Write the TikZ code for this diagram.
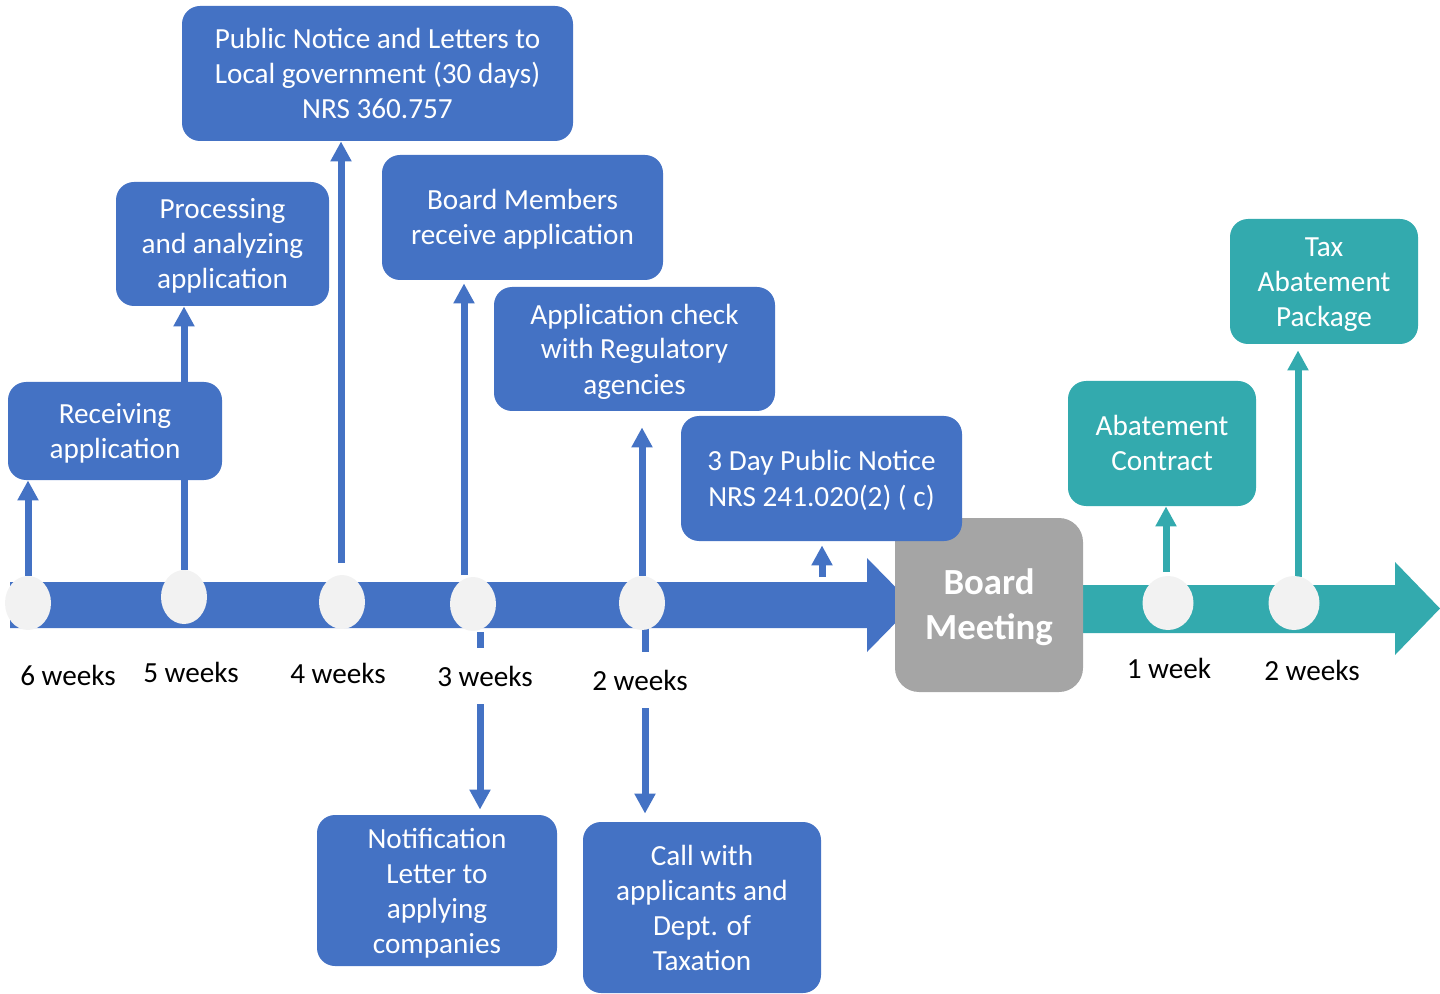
\documentclass[tikz,border=0pt]{standalone}
\usepackage{fontspec}
\setmainfont{Carlito}
\usetikzlibrary{arrows.meta,positioning,shapes.geometric,backgrounds}
\definecolor{stepblue}{HTML}{4472C4}
\definecolor{stepteal}{HTML}{33AAAE}
\definecolor{meetgray}{HTML}{A5A5A5}
\definecolor{dotgray}{HTML}{F2F2F2}

\begin{document}
\begin{tikzpicture}
[x=0.5pt, y=-0.5pt,
font=\fontsize{14.6}{17.5}\selectfont,
task/.style={fill=stepblue, text=white, rounded corners=9pt, align=center, inner sep=0pt, text depth=3.9pt},
tealtask/.style={task, fill=stepteal},
two/.style={text height=31.4pt},
three/.style={text height=48.9pt},
four/.style={text height=66.4pt},
meeting/.style={fill=meetgray, text=white, rounded corners=12pt, align=center, inner sep=0pt,
  font=\bfseries\fontsize{18.4}{22.5}\selectfont, text height=39.5pt, text depth=4.9pt},
dot/.style={ellipse, fill=dotgray, inner sep=0pt, minimum width=23pt, minimum height=27pt},
tealdot/.style={dot, minimum width=25.5pt},
wk/.style={anchor=base, fill=white, inner xsep=2pt, inner ysep=9pt},
link/.style={-{Triangle[width=10pt,length=10pt]}, line width=3.5pt, draw=stepblue},
teallink/.style={link, draw=stepteal}
]
  \useasboundingbox (0,0) rectangle (1440,994);

  % timeline dots
  \node[dot]     (c6) at (28,603)   {};
  \node[dot]     (c5) at (184,597)  {};
  \node[dot]     (c4) at (342,602)  {};
  \node[dot]     (c3) at (473,604)  {};
  \node[dot]     (c2) at (642,603)  {};
  \node[tealdot] (t1) at (1168,603) {};
  \node[tealdot] (t2) at (1294,603) {};

  % week labels
  \node[wk] (w6) at (68,685)    {6 weeks};
  \node[wk] (w5) at (191,682)   {5 weeks};
  \node[wk] (w4) at (338,683)   {4 weeks};
  \node[wk] (w3) at (485,686)   {3 weeks};
  \node[wk] (w2) at (640,690)   {2 weeks};
  \node[wk] (v1) at (1169,678)  {1 week};
  \node[wk] (v2) at (1312,680)  {2 weeks};

  % tasks
  \node[meeting, minimum width=94pt, minimum height=87pt] (board) at (989,605) {Board\\Meeting};
  \node[task, two, minimum width=107pt, minimum height=49pt]   (recv)  at (115,431)   {Receiving\\application};
  \node[task, three, minimum width=106.5pt, minimum height=62pt] (proc)  at (222.5,244) {Processing\\and analyzing\\application};
  \node[task, three, minimum width=195.5pt, minimum height=67.5pt] (pub) at (377.5,73.5) {Public Notice and Letters to\\Local government (30 days)\\NRS 360.757};
  \node[task, two, minimum width=140.5pt, minimum height=62.5pt] (memb) at (522.5,217.5) {Board Members\\receive application};
  \node[task, three, minimum width=140.5pt, minimum height=62pt] (check) at (634.5,349) {Application check\\with Regulatory\\agencies};
  \node[task, two, minimum width=140.5pt, minimum height=62.5pt] (pub3) at (821.5,478.5) {3 Day Public Notice\\NRS 241.020(2) ( c)};
  \node[task, four, minimum width=120pt, minimum height=75.5pt] (note) at (437,890.5) {Notification\\Letter to\\applying\\companies};
  \node[task, four, minimum width=119pt, minimum height=85.5pt] (call) at (702,907.5) {Call with\\applicants and\\Dept. of\\Taxation};
  \node[tealtask, two, minimum width=94pt, minimum height=62.5pt] (abc) at (1162,443.5) {Abatement\\Contract};
  \node[tealtask, three, minimum width=94pt, minimum height=62.5pt] (tax) at (1324,281.5) {Tax\\Abatement\\Package};

  \coordinate (up4)  at (341,563);
  \coordinate (up3)  at (464,575);
  \coordinate (dn3)  at (480,632);
  \coordinate (dn2)  at (645,628);
  \coordinate (up0)  at (822,577);
  \coordinate (up1t) at (1166,572);
  \coordinate (up2t) at (1298,577);

  \begin{scope}[on background layer]
    % timeline bars
    \fill[stepblue] (10,582) -- (867,582) -- (867,558) -- (913,605) -- (867,652) -- (867,628) -- (10,628) -- cycle;
    \fill[stepteal] (1060,585) -- (1395,585) -- (1395,562) -- (1440,608.5) -- (1395,655) -- (1395,633) -- (1060,633) -- cycle;

    \draw[link] (c6.north) -- (c6.north |- recv.south);
    \draw[link] (c5.north) -- (c5.north |- proc.south);
    \draw[link] (up4) -- (up4 |- pub.south);
    \draw[link] (up3) -- ([yshift=-1.5pt]up3 |- memb.south);
    \draw[link] (dn3) -- ([yshift=2.5pt]dn3 |- note.north);
    \draw[link] (c2.north) -- ([yshift=-8pt]c2.north |- check.south);
    \draw[link] (dn2) -- ([yshift=4pt]dn2 |- call.north);
    \draw[link] (up0) -- ([yshift=-2pt]up0 |- pub3.south);
    \draw[teallink] (up1t) -- (up1t |- abc.south);
    \draw[teallink] (up2t) -- ([yshift=-3pt]up2t |- tax.south);
  \end{scope}
\end{tikzpicture}
\end{document}
